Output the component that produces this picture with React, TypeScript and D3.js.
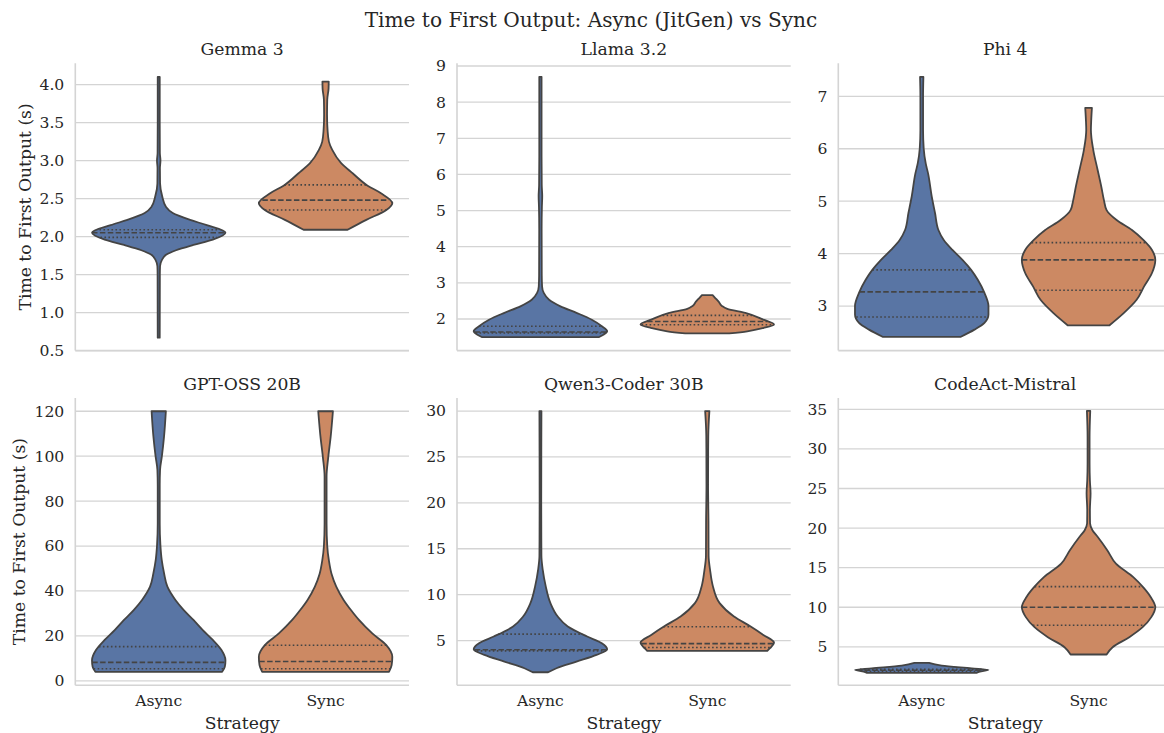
import * as d3 from 'd3';

const W = 1164;
const H = 733;

const title = 'Time to First Output: Async (JitGen) vs Sync';
const models = ['Gemma 3', 'Llama 3.2', 'Phi 4', 'GPT-OSS 20B', 'Qwen3-Coder 30B', 'CodeAct-Mistral'];
const strategies = ['Async', 'Sync'];
const palette = ['#5975a4', '#cc8963'];

// violin outlines: [seconds, half-width relative to the widest violin]
const gemmaAsync: [number, number][] = [
  [0.67, 0.015], [1.5, 0.017], [1.61, 0.02], [1.69, 0.047], [1.76, 0.11], [1.82, 0.26], [1.89, 0.52],
  [1.96, 0.81], [2.05, 1.0], [2.15, 0.72], [2.22, 0.47], [2.31, 0.21], [2.39, 0.11], [2.53, 0.052],
  [2.7, 0.02], [2.9, 0.018], [3.0, 0.026], [3.1, 0.017], [3.5, 0.015], [4.1, 0.015],
];
const gemmaSync: [number, number][] = [
  [2.09, 0.33], [2.22, 0.61], [2.35, 0.91], [2.44, 1.0], [2.57, 0.83], [2.67, 0.63], [2.83, 0.41],
  [2.97, 0.23], [3.14, 0.1], [3.25, 0.05], [3.4, 0.03], [3.6, 0.022], [3.8, 0.025], [3.95, 0.045], [4.04, 0.047],
];
const llamaAsync: [number, number][] = [
  [1.5, 0.88], [1.57, 0.95], [1.66, 1.0], [1.8, 0.92], [1.98, 0.77], [2.17, 0.54], [2.35, 0.3],
  [2.53, 0.13], [2.72, 0.05], [2.9, 0.025], [3.2, 0.02], [4.5, 0.018], [5.1, 0.022], [5.4, 0.027],
  [5.7, 0.02], [6.5, 0.017], [8.7, 0.017],
];
const llamaSync: [number, number][] = [
  [1.6, 0.33], [1.66, 0.6], [1.75, 0.84], [1.85, 1.0], [1.98, 0.84], [2.17, 0.57], [2.28, 0.3],
  [2.36, 0.22], [2.48, 0.17], [2.58, 0.12], [2.66, 0.08],
];
const phiAsync: [number, number][] = [
  [2.41, 0.58], [2.55, 0.79], [2.68, 0.94], [2.84, 1.0], [3.0, 1.0], [3.25, 0.94], [3.5, 0.84],
  [3.69, 0.74], [3.88, 0.61], [4.07, 0.46], [4.26, 0.33], [4.45, 0.25], [4.77, 0.2], [5.09, 0.15],
  [5.53, 0.095], [5.72, 0.06], [6.0, 0.03], [6.36, 0.02], [7.0, 0.02], [7.37, 0.025],
];
const phiSync: [number, number][] = [
  [2.63, 0.31], [2.87, 0.53], [3.12, 0.72], [3.37, 0.83], [3.63, 0.95], [3.88, 1.0], [4.07, 0.95],
  [4.26, 0.82], [4.45, 0.65], [4.64, 0.42], [4.83, 0.27], [5.02, 0.23], [5.28, 0.19], [5.6, 0.135],
  [5.98, 0.07], [6.36, 0.035], [6.55, 0.04], [6.78, 0.05],
];
const gptAsync: [number, number][] = [
  [4.0, 0.95], [6.2, 0.99], [9.2, 1.0], [13.7, 0.94], [18.2, 0.81], [22.6, 0.66], [27.1, 0.52],
  [31.5, 0.375], [36.0, 0.25], [41.9, 0.13], [47.9, 0.08], [53.8, 0.045], [60.5, 0.025], [70, 0.015],
  [87, 0.015], [94, 0.02], [99.9, 0.047], [108.8, 0.08], [120, 0.107],
];
const gptSync: [number, number][] = [
  [4.0, 0.95], [7.0, 0.99], [10.7, 1.0], [15.9, 0.91], [21.1, 0.7], [27.1, 0.5], [31.5, 0.38],
  [36.0, 0.27], [41.9, 0.16], [47.5, 0.09], [53.5, 0.05], [60, 0.025], [70, 0.015], [91, 0.015],
  [99.5, 0.04], [108.8, 0.077], [120, 0.11],
];
const qwenAsync: [number, number][] = [
  [1.55, 0.115], [1.99, 0.24], [2.71, 0.54], [3.44, 0.84], [4.06, 1.0], [4.72, 0.92], [5.44, 0.7],
  [6.53, 0.41], [7.62, 0.26], [9.08, 0.15], [10.9, 0.08], [12.7, 0.035], [14.2, 0.015], [20, 0.012], [30, 0.015],
];
const qwenSync: [number, number][] = [
  [3.88, 0.9], [4.17, 0.94], [4.78, 1.0], [5.62, 0.84], [6.53, 0.65], [7.62, 0.4], [9.08, 0.185],
  [10.9, 0.085], [12.7, 0.042], [14.2, 0.02], [18, 0.018], [22, 0.012], [27.3, 0.015], [30, 0.032],
];
const codeactAsync: [number, number][] = [
  [1.71, 0.82], [1.87, 0.87], [2.09, 1.0], [2.29, 0.75], [2.63, 0.3], [2.97, 0.11],
];
const codeactSync: [number, number][] = [
  [4.03, 0.27], [4.95, 0.36], [6.22, 0.61], [7.48, 0.81], [8.75, 0.94], [10.0, 1.0], [11.3, 0.93],
  [12.5, 0.82], [13.8, 0.67], [15.5, 0.41], [17.2, 0.28], [18.9, 0.135], [19.7, 0.06], [20.6, 0.022],
  [22.3, 0.02], [24.4, 0.03], [26, 0.02], [28.2, 0.015], [31.5, 0.015], [34.8, 0.025],
];

// quartiles [q1, median, q3]
const gemmaQuart = [[1.99, 2.05, 2.09], [2.35, 2.48, 2.68]];
const llamaQuart = [[1.61, 1.64, 1.8], [1.84, 1.93, 2.1]];
const phiQuart = [[2.79, 3.27, 3.69], [3.3, 3.88, 4.21]];
const gptQuart = [[5.4, 8.2, 15.2], [5.4, 8.6, 15.8]];
const qwenQuart = [[3.88, 4.0, 5.7], [4.24, 4.67, 6.5]];
const codeactQuart = [[1.92, 2.05, 2.15], [7.73, 10.0, 12.6]];

const yDomains = [[0.5, 4.28], [1.125, 9.075], [2.15, 7.63], [-2, 125.9], [0.13, 31.42], [0.14, 36.43]];
const yTicks = [
  [0.5, 1.0, 1.5, 2.0, 2.5, 3.0, 3.5, 4.0],
  [2, 3, 4, 5, 6, 7, 8, 9],
  [3, 4, 5, 6, 7],
  [0, 20, 40, 60, 80, 100, 120],
  [5, 10, 15, 20, 25, 30],
  [5, 10, 15, 20, 25, 30, 35],
];
const yTickFormats = ['.1f', 'd', 'd', 'd', 'd', 'd'];

const outlines = [
  [gemmaAsync, gemmaSync], [llamaAsync, llamaSync], [phiAsync, phiSync],
  [gptAsync, gptSync], [qwenAsync, qwenSync], [codeactAsync, codeactSync],
];
const quartiles = [gemmaQuart, llamaQuart, phiQuart, gptQuart, qwenQuart, codeactQuart];

const colLeft = [75.3, 457, 838.3];
const rowTop = [63.3, 398];
const panelW = 333.7;
const panelH = 287.3;

const font = 'DejaVu Serif';
const ink = '#262626';
const edge = '#444444';
const grid = '#d4d4d4';

function Panel({ i }: { i: number }) {
  const row = Math.floor(i / 3);
  const col = i % 3;
  const left = colLeft[col];
  const top = rowTop[row];
  const bottom = top + panelH;

  const x = d3.scaleBand().domain(strategies).range([left, left + panelW]).padding(0);
  const y = d3.scaleLinear().domain(yDomains[i]).range([bottom, top]);
  const maxHw = x.bandwidth() * 0.4;
  const fmt = d3.format(yTickFormats[i]);

  return (
    <g>
      {yTicks[i].map((t) => (
        <g key={t}>
          <line x1={left} x2={left + panelW} y1={y(t)} y2={y(t)} stroke={grid} strokeWidth={1.3} />
          <text x={left - 11} y={y(t)} dy="0.35em" textAnchor="end" fontSize={15.6} fill={ink}>
            {fmt(t)}
          </text>
        </g>
      ))}
      <line x1={left} x2={left} y1={top} y2={bottom} stroke={grid} strokeWidth={1.6} />
      <line x1={left} x2={left + panelW} y1={bottom} y2={bottom} stroke={grid} strokeWidth={1.6} />

      {strategies.map((s, k) => {
        const cx = x(s)! + x.bandwidth() / 2;
        const prof = outlines[i][k];
        const area = d3
          .area<[number, number]>()
          .y((d) => y(d[0]))
          .x0((d) => cx - d[1] * maxHw)
          .x1((d) => cx + d[1] * maxHw)
          .curve(d3.curveMonotoneY);
        const hw = d3.scaleLinear().domain(prof.map((d) => d[0])).range(prof.map((d) => d[1]));
        const q = quartiles[i][k];
        return (
          <g key={s}>
            <path d={area(prof) || ''} fill={palette[k]} stroke={edge} strokeWidth={1.8} strokeLinejoin="round" />
            {q.map((v, j) => (
              <line
                key={j}
                x1={cx - hw(v) * maxHw}
                x2={cx + hw(v) * maxHw}
                y1={y(v)}
                y2={y(v)}
                stroke={edge}
                strokeWidth={1.6}
                strokeDasharray={j === 1 ? '5.5 2.4' : '1.6 2.4'}
              />
            ))}
          </g>
        );
      })}

      <text x={left + panelW / 2} y={top - 8.5} textAnchor="middle" fontSize={17.2} fill={ink}>
        {models[i]}
      </text>

      {row === 1 &&
        strategies.map((s) => (
          <text key={s} x={x(s)! + x.bandwidth() / 2} y={706} textAnchor="middle" fontSize={15.6} fill={ink}>
            {s}
          </text>
        ))}
      {row === 1 && (
        <text x={left + panelW / 2} y={729} textAnchor="middle" fontSize={17.2} fill={ink}>
          Strategy
        </text>
      )}
      {col === 0 && (
        <text
          transform={`translate(${row === 0 ? 31 : 25},${top + panelH / 2}) rotate(-90)`}
          textAnchor="middle"
          fontSize={17.2}
          fill={ink}
        >
          Time to First Output (s)
        </text>
      )}
    </g>
  );
}

export default function App() {
  return (
    <svg
      width={W}
      height={H}
      style={{ position: 'absolute', left: 0, top: 0, background: '#fff' }}
      fontFamily={font}
    >
      <rect width={W} height={H} fill="#fff" />
      {models.map((m, i) => (
        <Panel key={m} i={i} />
      ))}
      <text x={591} y={26.7} textAnchor="middle" fontSize={20.1} fill={ink}>
        {title}
      </text>
    </svg>
  );
}
